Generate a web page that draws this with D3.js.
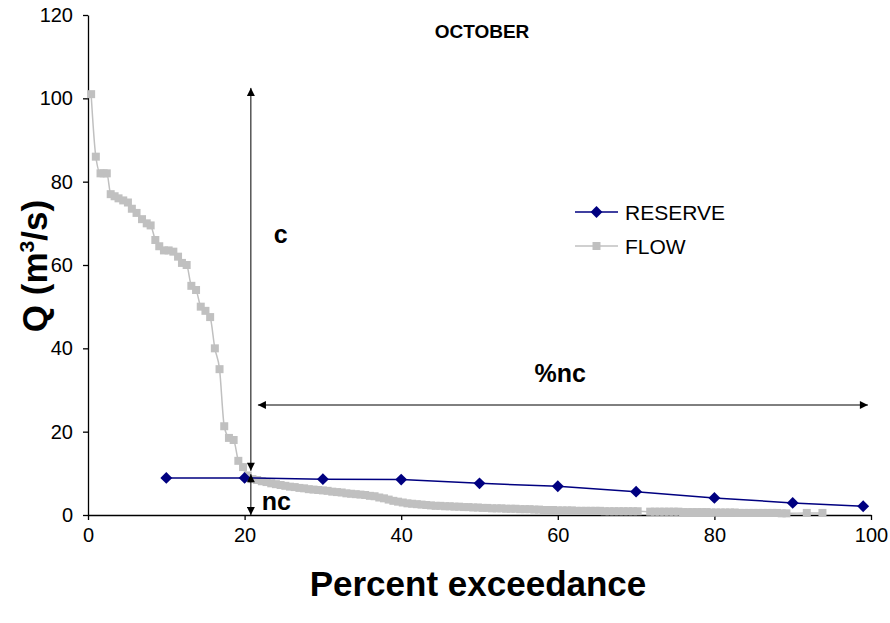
<!DOCTYPE html>
<html lang="en">
<head>
<meta charset="utf-8">
<title>D3: October flow duration</title>
<script src="https://d3js.org/d3.v7.min.js"></script>
<style type="text/css">
  body { margin: 0; background: #fff; }
  text { font-family: Arial, "Liberation Sans", sans-serif; }
</style>
</head>
<body>
<script type="text/javascript">
// reserve (environmental flow) per exceedance class
var reserveX = [10, 20, 30, 40, 50, 60, 70, 80, 90, 99];
var reserveY = [8.9, 8.9, 8.6, 8.5, 7.6, 6.9, 5.6, 4.1, 2.9, 2.1];

// observed daily flows, ranked
var flowX = [0.4, 1.0, 1.6, 2.0, 2.4, 2.9, 3.4, 3.9, 4.5, 5.1, 5.6, 6.2, 6.9, 7.5, 8.0, 8.6, 9.1, 9.7, 10.3, 10.9,
  11.5, 12.0, 12.6, 13.2, 13.8, 14.4, 15.0, 15.6, 16.2, 16.8, 17.4, 18.0, 18.6, 19.2, 19.8, 20.4, 21.0, 21.6, 22.2, 22.8,
  23.4, 24.0, 24.6, 25.2, 25.8, 26.4, 27.0, 27.6, 28.2, 28.8, 29.4, 30.0, 30.6, 31.2, 31.8, 32.4, 33.0, 33.6, 34.2, 34.8,
  35.4, 36.0, 36.6, 37.2, 37.8, 38.4, 39.0, 39.6, 40.2, 40.8, 41.4, 42.0, 42.6, 43.2, 43.8, 44.4, 45.0, 45.6, 46.2, 46.8,
  47.4, 48.0, 48.6, 49.2, 49.8, 50.4, 51.0, 51.6, 52.2, 52.8, 53.4, 54.0, 54.6, 55.2, 55.8, 56.4, 57.0, 57.6, 58.2, 58.8,
  59.4, 60.0, 60.6, 61.2, 61.8, 62.4, 63.0, 63.6, 64.2, 64.8, 65.4, 66.0, 66.6, 67.2, 67.8, 68.4, 69.0, 69.6, 70.2, 71.8,
  72.4, 73.0, 73.6, 74.2, 74.8, 75.4, 76.0, 76.6, 77.2, 77.8, 78.4, 79.0, 79.6, 80.2, 80.8, 81.4, 82.0, 82.6, 83.2, 83.8,
  84.4, 85.0, 85.6, 86.2, 86.8, 87.4, 88.0, 88.6, 89.2, 91.8, 93.8];
var flowY = [101, 86, 82, 82, 82, 77, 76.5, 76, 75.5, 75, 73.5, 72.5, 71, 70, 69.5, 66, 64.5, 63.5, 63.5, 63.2,
  62, 60.5, 60, 55, 54, 50, 49, 47.5, 40, 35, 21.3, 18.5, 18, 13, 11.5, 9.5, 8.6, 8.4, 8.1, 7.9,
  7.6, 7.4, 7.2, 7.0, 6.8, 6.7, 6.5, 6.4, 6.2, 6.1, 6.0, 5.9, 5.8, 5.6, 5.5, 5.4, 5.2, 5.1, 5.0, 4.9,
  4.8, 4.6, 4.5, 4.2, 4.0, 3.7, 3.4, 3.2, 3.0, 2.8, 2.7, 2.6, 2.5, 2.4, 2.3, 2.2, 2.2, 2.1, 2.1, 2.0,
  2.0, 1.9, 1.9, 1.8, 1.8, 1.7, 1.7, 1.6, 1.6, 1.6, 1.5, 1.5, 1.5, 1.4, 1.4, 1.4, 1.3, 1.3, 1.2, 1.2,
  1.2, 1.1, 1.1, 1.1, 1.1, 1.0, 1.0, 1.0, 1.0, 1.0, 1.0, 0.9, 0.9, 0.9, 0.9, 0.9, 0.9, 0.9, 0.9, 0.8,
  0.8, 0.8, 0.8, 0.8, 0.8, 0.8, 0.7, 0.7, 0.7, 0.7, 0.7, 0.7, 0.6, 0.6, 0.6, 0.6, 0.6, 0.6, 0.5, 0.5,
  0.5, 0.5, 0.5, 0.5, 0.5, 0.5, 0.5, 0.4, 0.4, 0.5, 0.5];

var xTicks = [0, 20, 40, 60, 80, 100];
var yTicks = [0, 20, 40, 60, 80, 100, 120];
var seriesNames = ["RESERVE", "FLOW"];

var margin = {top: 15, right: 19, bottom: 108, left: 88},
    width = 890 - margin.left - margin.right,
    height = 623 - margin.top - margin.bottom;

var reserve = reserveX.map(function(d, i){ return {x: d, y: reserveY[i]}; });
var flow = flowX.map(function(d, i){ return {x: d, y: flowY[i]}; });

var xscale = d3.scaleLinear().domain([0, 100]).range([0, width]);
var yscale = d3.scaleLinear().domain([0, 120]).range([height, 0]);

var svg = d3.select("body").append("svg")
    .attr("width", 890)
    .attr("height", 623);

// arrowheads
var defs = svg.append("defs");
defs.append("marker")
    .attr("id", "arrow")
    .attr("viewBox", "0 0 10 10")
    .attr("refX", 10).attr("refY", 5)
    .attr("markerWidth", 9).attr("markerHeight", 8)
    .attr("markerUnits", "userSpaceOnUse")
    .attr("orient", "auto-start-reverse")
  .append("path")
    .attr("d", "M0,0L10,5L0,10Z")
    .attr("fill", "#000");

var g = svg.append("g")
    .attr("transform", "translate(" + margin.left + "," + margin.top + ")");

// axes
var xAxis = g.append("g")
    .attr("transform", "translate(0," + height + ")")
    .call(d3.axisBottom(xscale).tickValues(xTicks).tickSize(5).tickPadding(8).tickSizeOuter(0));
var yAxis = g.append("g")
    .call(d3.axisLeft(yscale).tickValues(yTicks).tickSize(5).tickPadding(10).tickSizeOuter(0));
[xAxis, yAxis].forEach(function(a){
  a.selectAll("path, line").attr("stroke", "#000").attr("stroke-width", 1.3);
  a.selectAll("text").attr("font-size", "20px").attr("fill", "#000")
    .attr("font-family", "Arial, 'Liberation Sans', sans-serif");
});

// flow series
var line = d3.line()
    .x(function(d){ return xscale(d.x); })
    .y(function(d){ return yscale(d.y); })
    .curve(d3.curveMonotoneX);

g.append("path")
    .datum(flow)
    .attr("d", line)
    .attr("fill", "none")
    .attr("stroke", "#c0c0c0")
    .attr("stroke-width", 1.5);

g.selectAll("rect.flow")
    .data(flow)
    .enter()
    .append("rect")
    .attr("class", "flow")
    .attr("x", function(d){ return xscale(d.x) - 4; })
    .attr("y", function(d){ return yscale(d.y) - 4; })
    .attr("width", 8)
    .attr("height", 8)
    .attr("fill", "#c0c0c0");

// reserve series
g.append("path")
    .datum(reserve)
    .attr("d", d3.line()
        .x(function(d){ return xscale(d.x); })
        .y(function(d){ return yscale(d.y); }))
    .attr("fill", "none")
    .attr("stroke", "#000080")
    .attr("stroke-width", 1.5);

var diamond = d3.symbol().type(d3.symbolDiamond2).size(90);
g.selectAll("path.res")
    .data(reserve)
    .enter()
    .append("path")
    .attr("class", "res")
    .attr("d", diamond)
    .attr("transform", function(d){ return "translate(" + xscale(d.x) + "," + yscale(d.y) + ")"; })
    .attr("fill", "#000080");

// annotations: c / nc split at ~20.8 % exceedance
var splitX = xscale(20.8);
g.append("line")
    .attr("x1", splitX).attr("x2", splitX)
    .attr("y1", yscale(102.5)).attr("y2", yscale(10.6))
    .attr("stroke", "#000").attr("stroke-width", 1)
    .attr("marker-start", "url(#arrow)").attr("marker-end", "url(#arrow)");
g.append("line")
    .attr("x1", splitX).attr("x2", splitX)
    .attr("y1", yscale(9.8)).attr("y2", yscale(0))
    .attr("stroke", "#000").attr("stroke-width", 1)
    .attr("marker-start", "url(#arrow)").attr("marker-end", "url(#arrow)");
g.append("line")
    .attr("x1", xscale(21.7)).attr("x2", xscale(99.6))
    .attr("y1", yscale(26.4)).attr("y2", yscale(26.4))
    .attr("stroke", "#000").attr("stroke-width", 1)
    .attr("marker-start", "url(#arrow)").attr("marker-end", "url(#arrow)");

g.append("text")
    .attr("x", xscale(24.6)).attr("y", yscale(65.2))
    .attr("text-anchor", "middle")
    .attr("font-size", "25px").attr("font-weight", "bold")
    .text("c");
g.append("text")
    .attr("x", xscale(22.2)).attr("y", yscale(1.1))
    .attr("font-size", "25px").attr("font-weight", "bold")
    .text("nc");
g.append("text")
    .attr("x", xscale(60.3)).attr("y", yscale(32.0))
    .attr("text-anchor", "middle")
    .attr("font-size", "25px").attr("font-weight", "bold")
    .text("%nc");

// title
svg.append("text")
    .attr("x", 482).attr("y", 38)
    .attr("text-anchor", "middle")
    .attr("font-size", "19px").attr("font-weight", "bold")
    .text("OCTOBER");

// axis titles
svg.append("text")
    .attr("x", 478).attr("y", 596)
    .attr("text-anchor", "middle")
    .attr("font-size", "35px").attr("font-weight", "bold")
    .text("Percent exceedance");

var yl = svg.append("text")
    .attr("transform", "translate(47," + 266 + ") rotate(-90)")
    .attr("text-anchor", "middle")
    .attr("font-size", "35px").attr("font-weight", "bold");
yl.append("tspan").text("Q (m");
yl.append("tspan").attr("font-size", "21px").attr("dy", "-13").text("3");
yl.append("tspan").attr("dy", "13").text("/s)");

// legend
var legend = svg.append("g").attr("transform", "translate(575,212)");
var items = legend.selectAll("g")
    .data(seriesNames)
    .enter()
    .append("g")
    .attr("transform", function(d, i){ return "translate(0," + (i * 34) + ")"; });
items.append("line")
    .attr("x1", 0).attr("x2", 43)
    .attr("stroke", function(d, i){ return i === 0 ? "#000080" : "#c0c0c0"; })
    .attr("stroke-width", 1.5);
items.append("path")
    .attr("d", function(d, i){ return i === 0 ? diamond() : "M-4,-4h8v8h-8Z"; })
    .attr("transform", "translate(21.5,0)")
    .attr("fill", function(d, i){ return i === 0 ? "#000080" : "#c0c0c0"; });
items.append("text")
    .attr("x", 50).attr("y", 8)
    .attr("font-size", "21px")
    .text(function(d){ return d; });
</script>
</body>
</html>
